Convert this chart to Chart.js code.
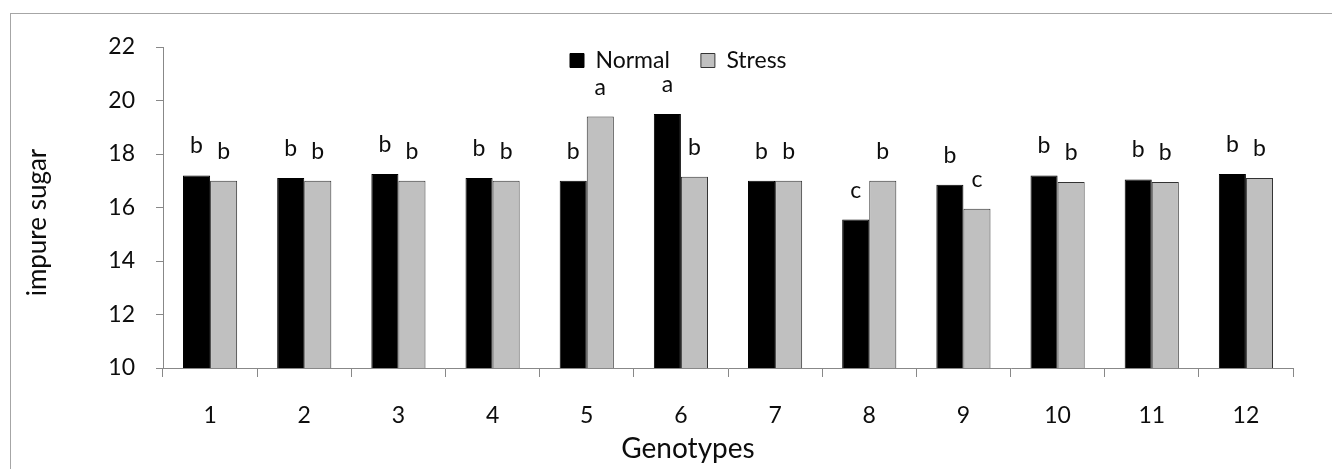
<!DOCTYPE html>
<html>
<head>
<meta charset="utf-8">
<script src="https://cdn.jsdelivr.net/npm/chart.js@4.4.1/dist/chart.umd.min.js"></script>
<style>
    html, body { margin: 0; padding: 0; background: #fff; overflow: hidden; }
    #wrap { position: relative; width: 1332px; height: 469px; }
    #frame {
        position: absolute; left: 10px; top: 13px; width: 1340px; height: 480px;
        border: 1px solid #a6a6a6; pointer-events: none;
    }
    canvas { position: absolute; left: 0; top: 0; }
</style>
</head>
<body>
<div id="wrap">
    <canvas id="sugarChart" width="1332" height="469"></canvas>
    <div id="frame"></div>
</div>
<script>
// Genotype categories and impure sugar means
const genotypes = ['1', '2', '3', '4', '5', '6', '7', '8', '9', '10', '11', '12'];
const normalValues = [17.2, 17.1, 17.25, 17.1, 17.0, 19.5, 17.0, 15.55, 16.85, 17.2, 17.05, 17.25];
const stressValues = [17.0, 17.0, 17.0, 17.0, 19.4, 17.15, 17.0, 17.0, 15.95, 16.95, 16.95, 17.1];

// Mean-comparison letters above each bar
const normalLetters = ['b', 'b', 'b', 'b', 'b', 'a', 'b', 'c', 'b', 'b', 'b', 'b'];
const stressLetters = ['b', 'b', 'b', 'b', 'a', 'b', 'b', 'b', 'c', 'b', 'b', 'b'];

// Y axis range
const yMin = 10;
const yMax = 22;
const yStep = 2;

const FONT = 'Lato';
const TEXT_COLOR = '#0d0d0d';
const AXIS_COLOR = '#888888';

// Letters drawn above each bar from the bar elements
const letterPlugin = {
    id: 'letterPlugin',
    afterDatasetsDraw(chart) {
        const ctx = chart.ctx;
        ctx.save();
        ctx.font = `23px ${FONT}`;
        ctx.fillStyle = TEXT_COLOR;
        ctx.textAlign = 'center';
        ctx.textBaseline = 'alphabetic';
        chart.data.datasets.forEach((ds, i) => {
            chart.getDatasetMeta(i).data.forEach((bar, j) => {
                ctx.fillText(ds.letters[j], bar.x, bar.y - 22);
            });
        });
        ctx.restore();
    }
};

// Axis titles (slightly off-centre in the original)
const axisTitlePlugin = {
    id: 'axisTitlePlugin',
    afterDraw(chart) {
        const ctx = chart.ctx;
        const area = chart.chartArea;
        ctx.save();
        ctx.font = `28px ${FONT}`;
        ctx.fillStyle = TEXT_COLOR;
        ctx.textAlign = 'center';
        ctx.textBaseline = 'middle';
        ctx.fillText('Genotypes', (area.left + area.right) / 2 - 40, area.bottom + 81);

        ctx.font = `26px ${FONT}`;
        ctx.translate(38, (area.top + area.bottom) / 2 + 15);
        ctx.rotate(-Math.PI / 2);
        ctx.fillText('impure sugar', 0, 0);
        ctx.restore();
    }
};

// Move the legend down into the plot, as in the original
const legendShiftPlugin = {
    id: 'legendShiftPlugin',
    afterLayout(chart) {
        const lg = chart.legend;
        const pad = lg.options.labels.padding;
        lg.left = 570 - pad;
        lg.top = chart.chartArea.top + 2 - pad;
        lg.bottom = lg.top + 2 * pad + 30;
    }
};

const ctx = document.getElementById('sugarChart');

new Chart(ctx, {
    type: 'bar',
    data: {
        labels: genotypes,
        datasets: [
            {
                label: 'Normal',
                data: normalValues,
                letters: normalLetters,
                backgroundColor: '#000000',
                borderColor: '#000000',
                borderWidth: 1,
                categoryPercentage: 0.575,
                barPercentage: 1.0
            },
            {
                label: 'Stress',
                data: stressValues,
                letters: stressLetters,
                backgroundColor: '#c0c0c0',
                borderColor: '#333333',
                borderWidth: 1,
                categoryPercentage: 0.575,
                barPercentage: 1.0
            }
        ]
    },
    options: {
        responsive: false,
        animation: false,
        devicePixelRatio: 1,
        layout: {
            padding: { left: 0, right: 39, top: 0, bottom: 0 }
        },
        plugins: {
            title: { display: false },
            tooltip: { enabled: false },
            legend: {
                display: true,
                position: 'top',
                align: 'start',
                maxHeight: 47,
                labels: {
                    boxWidth: 14,
                    boxHeight: 14,
                    padding: 31,
                    color: TEXT_COLOR,
                    font: { family: FONT, size: 23 }
                }
            }
        },
        scales: {
            x: {
                afterFit(scale) { scale.height = 101; },
                grid: {
                    display: true,
                    offset: true,
                    drawOnChartArea: false,
                    drawTicks: true,
                    tickLength: 9,
                    color: AXIS_COLOR,
                    lineWidth: 1
                },
                border: { display: true, color: AXIS_COLOR, width: 1 },
                ticks: {
                    padding: 25,
                    color: TEXT_COLOR,
                    font: { family: FONT, size: 23 },
                    maxRotation: 0
                }
            },
            y: {
                min: yMin,
                max: yMax,
                afterFit(scale) { scale.width = 163; },
                grid: {
                    display: true,
                    drawOnChartArea: false,
                    drawTicks: true,
                    tickLength: 7,
                    color: AXIS_COLOR,
                    lineWidth: 1
                },
                border: { display: true, color: AXIS_COLOR, width: 1 },
                ticks: {
                    stepSize: yStep,
                    padding: 21,
                    color: TEXT_COLOR,
                    font: { family: FONT, size: 23 }
                }
            }
        }
    },
    plugins: [letterPlugin, axisTitlePlugin, legendShiftPlugin]
});
</script>
</body>
</html>
